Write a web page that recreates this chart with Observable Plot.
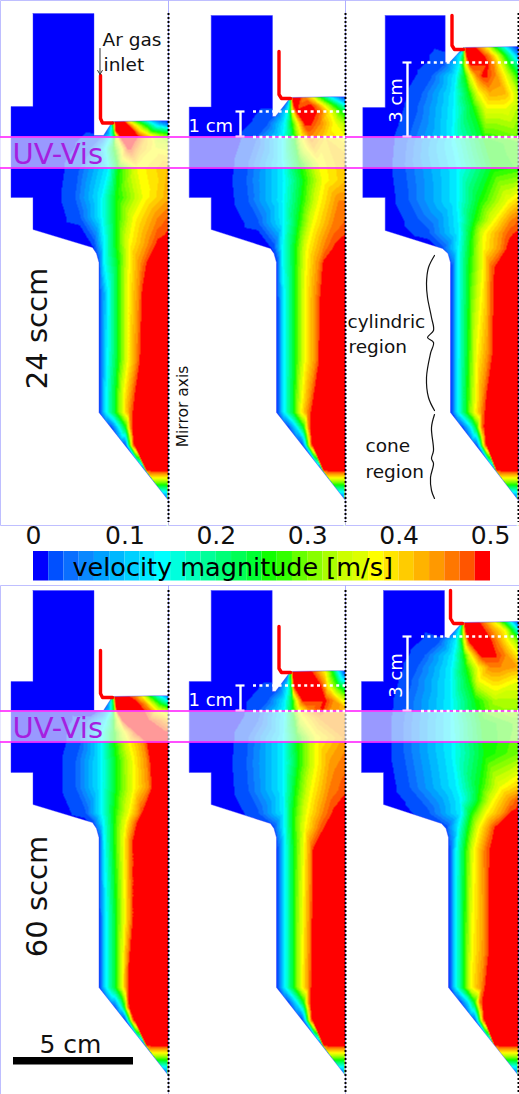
<!DOCTYPE html>
<html><head><meta charset="utf-8">
<script src="https://cdn.jsdelivr.net/npm/d3@7"></script>
<script src="https://cdn.jsdelivr.net/npm/@observablehq/plot@0.6"></script>
<style>html,body{margin:0;padding:0;background:#fff}svg{display:block}</style>
</head><body><div id="chart"></div>
<script>
// Colour key: 30 bands from 0 to 0.5 m/s
const bandColors = ["#0000ff","#0050ff","#0a6eff","#0a88ff","#00a0ff","#00b8ff","#00d0ff","#00e8ff","#00ffff",
 "#00ffdd","#00ffbb","#00ff99","#00ff77","#00ff55","#00ff33","#11ff00",
 "#33ff00","#66ff00","#88ff00","#aaff00","#ccff00","#ddff00","#ffff00",
 "#ffe600","#ffcc00","#ffb300","#ff9900","#ff7700","#ff5500","#ff0000"];
const tickValues = [0,0.1,0.2,0.3,0.4,0.5];

// Velocity readings, picture units. Each row: y, then x,v pairs along that row.
const fieldA = [
[13,10,0,168,0],[118,10,0,168,0],
[120,10,0,108,0,112,.25,114,.49,123,.49,128,.37,136,.25,148,.13,160,.03,168,0],
[125,10,0,106,0,110,.1,113,.3,115,.49,128,.49,136,.37,146,.25,157,.13,168,.08],
[130,10,0,104,0,110,.13,113,.25,115,.49,133,.49,141,.37,152,.25,168,.2],
[135,10,0,100,.02,110,.13,114,.25,116,.37,119,.49,137,.49,148,.4,158,.33,168,.29],
[148,10,0,88,.02,104,.13,113,.25,121,.37,127,.49,130,.49,140,.42,155,.37,168,.36],
[168,10,0,75,.02,107,.13,117,.25,137,.37,168,.42],
[197,10,0,71,.02,100,.13,115,.25,143,.37,168,.43],
[217,10,0,77,.02,100,.13,115,.25,133,.37,157,.45,168,.47],
[243,10,0,93,.02,103,.13,115,.25,128,.37,150,.46,157,.49,168,.5],
[263,90,0,98,.02,103,.13,117,.25,128,.37,140,.45,147,.49,168,.5],
[293,92,0,99,.02,107,.13,117,.25,127,.37,138,.45,142,.49,168,.5],
[360,92,0,99,.02,106,.13,117,.25,127,.37,136,.45,140,.49,168,.5],
[393,92,0,99,.02,105,.13,115,.25,123,.37,131,.45,135,.49,168,.5],
[412,92,0,99,.02,105,.13,115,.25,123,.37,129,.45,133,.49,168,.5],
[427,105,0,111,.02,118,.13,125,.25,128,.37,130,.45,132,.49,168,.5],
[445,118,0,125,.02,127,.13,129,.25,131,.37,132,.45,134,.49,168,.5],
[470,140,0,144,.02,145,.25,146,.49,168,.5],
[500,166,0,168,.5]];
const fieldB = [
[15,188,0,345,0],[94,188,0,345,0],
[96,188,0,287,0,290,.25,292,.49,300,.49,304,.45,312,.37,320,.25,330,.13,340,.03,345,0],
[105,188,0,283,.02,288,.13,290,.25,291,.37,293,.49,311,.49,317,.45,324,.37,335,.25,345,.15],
[111,188,0,275,.02,286,.13,290,.25,292,.37,296,.49,315,.49,322,.45,330,.37,340,.27,345,.23],
[123,188,0,265,.02,283,.13,291,.25,297,.37,304,.49,310,.49,320,.45,335,.37,345,.32],
[137,188,0,252,.02,281,.13,293,.25,301,.37,310,.45,325,.4,345,.37],
[163,188,0,243,.02,281,.13,298,.25,318,.37,345,.42],
[180,188,0,241,.02,282,.13,302,.25,322,.37,342,.41,345,.42],
[200,188,0,243,.02,281,.13,300,.25,318,.37,338,.45,345,.45],
[223,188,0,255,.02,282,.13,297,.25,312,.37,332,.45,345,.47],
[247,188,0,273,.02,281,.13,294,.25,306,.37,325,.46,335,.49,345,.5],
[263,268,0,277,.02,281,.13,294,.25,305,.37,318,.45,323,.49,345,.5],
[300,270,0,277,.02,283,.13,294,.25,304,.37,315,.45,320,.49,345,.5],
[360,270,0,277,.02,283,.13,294,.25,304,.37,315,.45,319,.49,345,.5],
[400,270,0,277,.02,283,.13,293,.25,301,.37,309,.45,313,.49,345,.5],
[412,270,0,277,.02,283,.13,293,.25,300,.37,307,.45,311,.49,345,.5],
[427,283,0,288,.02,296,.13,303,.25,306,.37,308,.45,310,.49,345,.5],
[445,296,0,302,.02,305,.13,307,.25,309,.37,310,.45,312,.49,345,.5],
[470,318,0,321,.02,322,.25,323,.49,345,.5],
[500,343,0,345,.5]];
const fieldC = [
[15,362,0,518,0],[44,362,0,518,0],
[46,362,0,460,0,463,.25,465,.49,474,.49,479,.45,487,.37,495,.25,505,.13,513,.03,518,0],
[55,362,0,449,.02,459,.13,463,.25,464,.37,466,.49,483,.49,489,.45,496,.37,505,.25,518,.08],
[63,362,0,442,.02,458,.13,462,.25,465,.37,469,.49,487,.49,493,.45,500,.37,510,.25,518,.17],
[75,362,0,428,.02,455,.13,464,.25,470,.37,476,.45,482,.49,486,.49,495,.45,505,.37,518,.25],
[93,362,0,417,.02,453,.13,468,.25,478,.37,490,.43,505,.42,518,.33],
[107,362,0,412,.02,452,.13,472,.25,486,.37,505,.37,518,.33],
[143,362,0,400,.02,450,.13,484,.25,518,.28],
[167,362,0,398,.02,455,.13,491,.25,518,.27],
[200,362,0,402,.02,455,.13,478,.25,508,.37,518,.4],
[220,362,0,412,.02,457,.13,473,.25,493,.37,510,.45,518,.47],
[233,362,0,425,.02,458,.13,470,.25,483,.37,502,.45,510,.48,518,.49],
[248,362,0,441,.02,457,.13,469,.25,482,.37,500,.45,507,.49,518,.5],
[267,443,0,451,.02,457,.13,468,.25,482,.37,491,.47,495,.49,518,.5],
[350,443,0,451,.02,457,.13,467,.25,476,.37,488,.45,493,.49,518,.5],
[400,443,0,451,.02,457,.13,466,.25,475,.37,482,.45,486,.49,518,.5],
[412,443,0,451,.02,457,.13,466,.25,474,.37,481,.45,485,.49,518,.5],
[427,458,0,462,.02,470,.13,476,.25,479,.37,481,.45,484,.49,518,.5],
[445,470,0,476,.02,479,.13,481,.25,483,.37,484,.45,486,.49,518,.5],
[470,491,0,494,.02,495,.25,496,.49,518,.5],
[500,516,0,518,.5]];
const fieldD = [
[590,10,0,168,0],[693,10,0,168,0],
[695,10,0,108,0,112,.25,114,.49,127,.49,135,.45,142,.37,150,.25,160,.13,168,.03],
[703,10,0,104,0,110,.13,113,.25,115,.49,138,.49,144,.45,150,.37,160,.25,168,.18],
[710,10,0,100,.02,110,.13,113,.25,115,.37,116,.49,143,.49,150,.45,157,.37,168,.33],
[720,10,0,85,.02,105,.13,113,.25,118,.37,122,.49,148,.49,160,.45,168,.42],
[732,10,0,78,.02,100,.13,113,.25,124,.37,135,.49,165,.49,168,.5],
[742,10,0,77,.02,100,.13,113,.25,128,.37,143,.45,147,.49,168,.5],
[760,10,0,72,.02,100,.13,115,.25,132,.37,146,.45,150,.49,168,.5],
[787,10,0,72,.02,100,.13,115,.25,133,.37,148,.45,152,.49,168,.5],
[813,10,0,83,.02,100,.13,113,.25,128,.37,138,.45,142,.49,168,.5],
[822,10,0,92,.02,102,.13,113,.25,125,.37,133,.45,137,.49,168,.5],
[840,92,0,99,.02,103,.13,113,.25,123,.37,129,.45,133,.49,168,.5],
[917,92,0,99,.02,105,.13,115,.25,124,.37,130,.45,133,.49,168,.5],
[973,92,0,99,.02,105,.13,115,.25,122,.37,126,.45,128,.49,168,.5],
[987,92,0,99,.02,105,.13,115,.25,122,.37,126,.45,128,.49,168,.5],
[1007,108,0,114,.02,120,.13,124,.25,126,.37,127,.45,129,.49,168,.5],
[1020,118,0,125,.02,127,.13,129,.25,131,.37,132,.45,134,.49,168,.5],
[1045,140,0,144,.02,145,.25,146,.49,168,.5],
[1075,166,0,168,.5]];
const fieldE = [
[590,188,0,345,0],[668,188,0,345,0],
[670,188,0,287,0,290,.25,292,.49,310,.49,316,.45,325,.37,332,.25,338,.13,345,0],
[685,188,0,278,.02,287,.13,291,.25,292,.37,293,.49,320,.49,324,.45,328,.37,338,.25,345,.2],
[700,188,0,265,.02,284,.13,292,.25,296,.37,302,.49,325,.49,333,.45,342,.37,345,.36],
[708,188,0,258,.02,283,.13,292,.25,298,.37,308,.45,322,.49,330,.45,345,.42],
[717,188,0,255,.02,283,.13,293,.25,301,.37,320,.44,345,.44],
[737,188,0,243,.02,282,.13,296,.25,315,.37,345,.44],
[763,188,0,241,.02,282,.13,297,.25,315,.37,330,.44,345,.46],
[790,188,0,243,.02,282,.13,294,.25,310,.37,328,.45,345,.48],
[813,188,0,255,.02,283,.13,292,.25,306,.37,322,.45,333,.49,345,.5],
[827,188,0,273,.02,283,.13,292,.25,304,.37,320,.47,325,.49,345,.5],
[850,270,0,277,.02,284,.13,293,.25,303,.37,310,.45,313,.49,345,.5],
[987,270,0,277,.02,284,.13,293,.25,301,.37,308,.45,311,.49,345,.5],
[1002,283,0,288,.02,296,.13,303,.25,306,.37,308,.45,310,.49,345,.5],
[1020,296,0,302,.02,305,.13,307,.25,309,.37,310,.45,312,.49,345,.5],
[1045,318,0,321,.02,322,.25,323,.49,345,.5],
[1075,343,0,345,.5]];
const fieldF = [
[590,361,0,518,0],[619,361,0,518,0],
[621,361,0,459,0,462,.25,464,.49,478,.49,484,.45,494,.37,503,.25,511,.13,518,.02],
[630,361,0,452,.02,458,.13,461,.25,463,.37,465,.49,484,.49,491,.45,505,.37,512,.25,518,.15],
[640,361,0,437,.02,455,.13,461,.25,464,.37,468,.49,490,.49,497,.45,508,.37,518,.3],
[655,361,0,420,.02,452,.13,463,.25,470,.37,480,.49,495,.49,505,.45,518,.38],
[667,361,0,412,.02,450,.13,465,.25,477,.37,490,.45,500,.45,518,.43],
[680,361,0,406,.02,449,.13,468,.25,478,.37,518,.37],
[700,361,0,400,.02,449,.13,474,.25,495,.33,518,.33],
[723,361,0,397,.02,449,.13,480,.25,518,.29],
[753,361,0,397,.02,450,.13,483,.25,518,.3],
[787,361,0,403,.02,455,.13,478,.25,500,.37,518,.41],
[800,361,0,414,.02,459,.13,477,.25,492,.37,510,.45,518,.48],
[813,361,0,425,.02,460,.13,470,.25,485,.37,503,.45,510,.49,518,.5],
[827,361,0,445,.02,457,.13,467,.25,478,.37,492,.47,495,.49,518,.5],
[850,442,0,449,.02,455,.13,464,.25,473,.37,486,.47,490,.49,518,.5],
[950,442,0,449,.02,455,.13,463,.25,471,.37,484,.45,489,.49,518,.5],
[987,442,0,449,.02,455,.13,463,.25,470,.37,481,.45,485,.49,518,.5],
[1002,456,0,460,.02,468,.13,474,.25,477,.37,479,.45,482,.49,518,.5],
[1020,468,0,474,.02,477,.13,479,.25,481,.37,482,.45,484,.49,518,.5],
[1045,489,0,492,.02,493,.25,494,.49,518,.5],
[1075,516,0,518,.5]];

// Reactor outlines, picture units
const shapeA = [[32.5,13],[93.5,13],[93.5,135],[103,135],[112,121],[168,120],[168,500],[98.5,412],[98.5,262],[96,253],[92,247],[32.5,229],[32.5,197],[10.5,197],[10.5,106],[32.5,106]];
const shapeB = [[210.7,15],[272,15],[272,116],[275,116],[290,97],[345,96],[345,500],[276,412],[276,262],[273.5,253],[270,248],[210.7,229],[210.7,197],[188.7,197],[188.7,106.5],[210.7,106.5]];
const shapeC = [[384.7,15],[444.7,15],[444.7,62],[449,62],[463,47],[518,46],[518,500],[450,412],[450,262],[447.5,253],[442,248],[384.7,230],[384.7,197],[362.3,197],[362.3,107],[384.7,107]];
const shapeD = [[32.5,590],[93.5,590],[93.5,710],[103,710],[112,696],[168,695],[168,1075],[98.5,987],[98.5,837],[96,828],[92,822],[32.5,804],[32.5,772],[10.5,772],[10.5,681],[32.5,681]];
const shapeE = [[210.7,590],[271.7,590],[271.7,691],[275,691],[290,671],[345,670],[345,1075],[276,987],[276,837],[273.5,828],[270,823],[210.7,804],[210.7,772],[188.7,772],[188.7,681],[210.7,681]];
const shapeF = [[383,590],[444,590],[444,637],[448,637],[462,622],[518,621],[518,1075],[448,987],[448,837],[445.5,828],[441,823],[383,804],[383,772],[361,772],[361,681],[383,681]];

// Gas pipes
const pipes = [
 [[100,75],[100,118],[102,122.5],[112,122.5]],
 [[278.5,51],[278.5,94],[281,98],[290,98]],
 [[451.5,15],[451.5,45],[454,49],[463,49]],
 [[100,650],[100,693],[102,697],[112,697]],
 [[278.5,626],[278.5,668],[281,672],[290,672]],
 [[450,590],[450,618],[453,623],[462,623]]];

// Region braces
const braceCyl = [[434,255],[428,267],[426,283],[427,297],[431,317],[433,330],[427,337],[433,342],[430,353],[426,377],[428,397],[434,410]];
const braceCone = [[434,414],[431,427],[433,450],[431,458],[433,463],[430,477],[431,490],[434,498]];

const panels = [
 {field:fieldA,shape:shapeA,x1:0,x2:168,y1:0,y2:525},
 {field:fieldB,shape:shapeB,x1:168,x2:345,y1:0,y2:525},
 {field:fieldC,shape:shapeC,x1:345,x2:519,y1:0,y2:525},
 {field:fieldD,shape:shapeD,x1:0,x2:168,y1:585,y2:1094},
 {field:fieldE,shape:shapeE,x1:168,x2:345,y1:585,y2:1094},
 {field:fieldF,shape:shapeF,x1:345,x2:519,y1:585,y2:1094}];

const samplesOf = rows => rows.flatMap(([y,...r]) => d3.range(0,r.length,2).map(i => ({x:r[i],y,v:r[i+1]})));
// white sheet with a keyhole cut in the shape of the reactor
function sheet(p){
  const s = d3.polygonArea(p.shape) > 0 ? [...p.shape].reverse() : p.shape;
  const rect = [[p.x1,p.y1],[p.x2,p.y1],[p.x2,p.y2],[p.x1,p.y2]];
  const outer = d3.polygonArea(rect) > 0 ? rect : [...rect].reverse();
  return [...outer,outer[0],s[0],...s,s[0],outer[0]];
}
const thresholds = d3.range(1,bandColors.length).map(i => i*0.5/bandColors.length);
const keyBands = bandColors.map((c,i) => ({lo:i*0.5/30,hi:(i+1)*0.5/30,mid:(i+.5)*0.5/30}));
const font = "DejaVu Sans";
const txt = (s,x,y,o={}) => Plot.text([s],{x:()=>x,y:()=>y,text:d=>d,fontFamily:font,textAnchor:"start",lineAnchor:"bottom",fill:"#111",...o});
const dotted = (y,x1,x2) => Plot.ruleY([y],{x1,x2,stroke:"#fff",strokeWidth:2.6,strokeDasharray:"3,3.4"});
const ibar = (x,y1,y2) => [
  Plot.ruleX([x],{y1,y2,stroke:"#fff",strokeWidth:2.4}),
  Plot.ruleY([y1],{x1:x-4.5,x2:x+4.5,stroke:"#fff",strokeWidth:2.2}),
  Plot.ruleY([y2],{x1:x-4.5,x2:x+4.5,stroke:"#ffc0ff",strokeWidth:2.2})];

const marks = [];
for (const p of panels) {
  marks.push(Plot.raster(samplesOf(p.field),{x:"x",y:"y",fill:"v",x1:p.x1,x2:p.x2,y1:p.y1,y2:p.y2,interpolate:"barycentric",pixelSize:1}));
  marks.push(Plot.line(sheet(p),{x:d=>d[0],y:d=>d[1],fill:"white",stroke:"none"}));
  marks.push(Plot.line(p.shape.concat([p.shape[0]]),{x:d=>d[0],y:d=>d[1],stroke:"#3a3aff",strokeWidth:.7,strokeOpacity:.6}));
}
// mirror axes
for (const x of [168,345,518]) {
  marks.push(Plot.ruleX([x],{y1:13,y2:522,stroke:"#000",strokeWidth:2,strokeDasharray:"2,2"}));
  marks.push(Plot.ruleX([x],{y1:590,y2:1094,stroke:"#000",strokeWidth:2,strokeDasharray:"2,2"}));
}
// UV-Vis windows
for (const [y1,y2] of [[136.5,167.5],[710.5,741.5]]) {
  marks.push(Plot.rect([0],{x1:0,x2:519,y1,y2,fill:"#fff",fillOpacity:.6}));
  marks.push(Plot.ruleY([y1,y2],{stroke:"#ff30ff",strokeWidth:2,strokeOpacity:.85}));
}
// pipes
for (const pipe of pipes) marks.push(Plot.line(pipe,{x:d=>d[0],y:d=>d[1],stroke:"#ff0000",strokeWidth:3.4,curve:"linear",strokeLinejoin:"round"}));
// height rulers
marks.push(dotted(111,253,345),dotted(136.5,253,345),dotted(62,421,518),dotted(136.5,421,518),
           dotted(685,253,345),dotted(710.5,253,345),dotted(636,421,518),dotted(710.5,421,518));
marks.push(...ibar(240,111,136),...ibar(407,62,136),...ibar(240,685,710),...ibar(407,636,710));
// colour key
marks.push(Plot.rect(keyBands,{x1:d=>33+d.lo*914,x2:d=>33+d.hi*914,y1:()=>551,y2:()=>580.5,fill:"mid"}));
marks.push(Plot.text(tickValues,{x:d=>33+d*914,y:()=>543,text:d=>String(d),fontFamily:font,fontSize:25,textAnchor:"middle",lineAnchor:"bottom",fill:"#111"}));
marks.push(txt("velocity magnitude [m/s]",72,575,{fontSize:25.5,fill:"#000"}));
// labels
marks.push(
  txt("UV-Vis",12,163,{fontSize:29,fill:"#a51fe0"}),
  txt("UV-Vis",12,737,{fontSize:29,fill:"#a51fe0"}),
  txt("Ar gas",102,45,{fontSize:18.5}),
  txt("inlet",103,70,{fontSize:18.5}),
  Plot.arrow([0],{x1:()=>99.5,y1:()=>48,x2:()=>99.5,y2:()=>74,stroke:"#333",strokeWidth:1,headLength:7,bend:0}),
  txt("1 cm",188,131,{fontSize:18,fill:"#fff"}),
  txt("1 cm",188,705,{fontSize:18,fill:"#fff"}),
  txt("3 cm",401,100,{fontSize:18,fill:"#fff",rotate:-90,textAnchor:"middle"}),
  txt("3 cm",401,675,{fontSize:18,fill:"#fff",rotate:-90,textAnchor:"middle"}),
  txt("24 sccm",46,328,{fontSize:29,rotate:-90,textAnchor:"middle"}),
  txt("60 sccm",46,896,{fontSize:29,rotate:-90,textAnchor:"middle"}),
  txt("Mirror axis",187,406,{fontSize:15.5,rotate:-90,textAnchor:"middle"}),
  txt("cylindric",347,327,{fontSize:18.5}),
  txt("region",348,352,{fontSize:18.5}),
  txt("cone",365,451,{fontSize:18.5}),
  txt("region",365,477,{fontSize:18.5}),
  txt("5 cm",39,1052,{fontSize:25}),
  Plot.rect([0],{x1:13,x2:133,y1:1057,y2:1064.5,fill:"#000"}),
  Plot.line(braceCyl,{x:d=>d[0],y:d=>d[1],stroke:"#111",strokeWidth:1.2,curve:"catmull-rom"}),
  Plot.line(braceCone,{x:d=>d[0],y:d=>d[1],stroke:"#111",strokeWidth:1.2,curve:"catmull-rom"})
);

const chart = Plot.plot({
  width:519,height:1094,margin:0,
  x:{domain:[0,519],range:[0,519],axis:null},
  y:{domain:[0,1094],range:[0,1094],axis:null},
  color:{type:"threshold",domain:thresholds,range:bandColors,legend:false},
  style:{background:"#fff",overflow:"hidden"},
  marks
});
document.getElementById("chart").append(chart);
</script></body></html>
